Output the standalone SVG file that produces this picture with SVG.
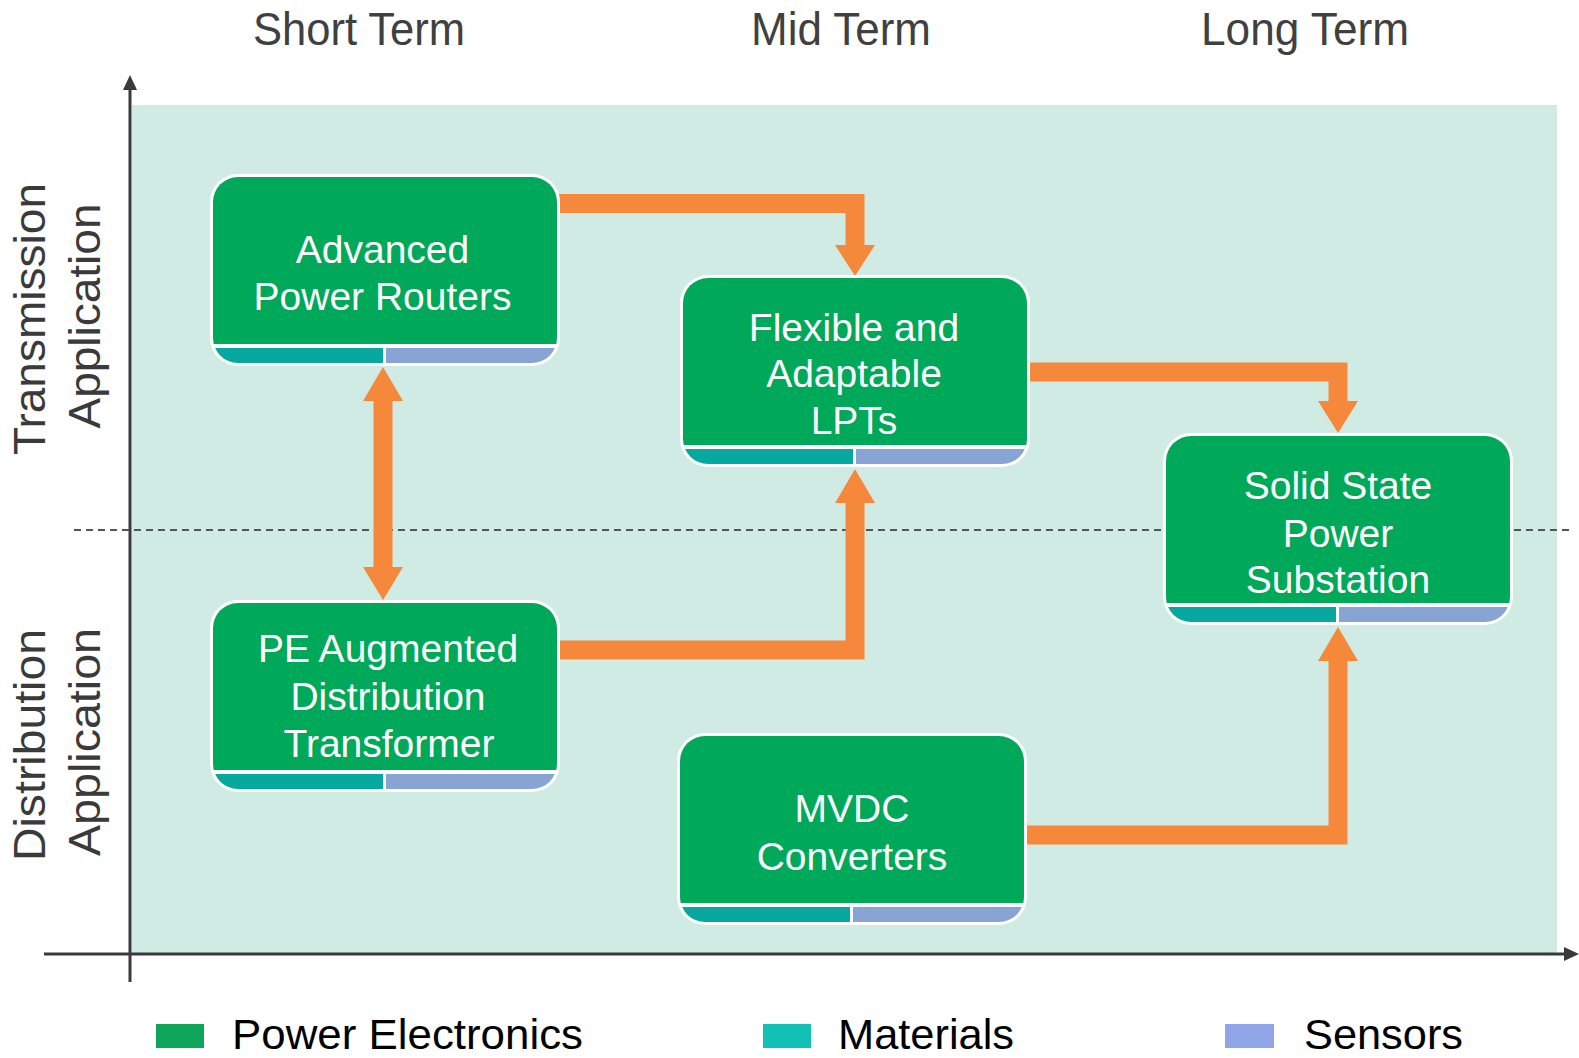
<svg xmlns="http://www.w3.org/2000/svg" width="1579" height="1058" viewBox="0 0 1579 1058">
<style>
.hdr{font-family:"Liberation Sans",Arial,sans-serif;font-size:46px;fill:#404040;text-anchor:middle}
.row{font-family:"Liberation Sans",Arial,sans-serif;font-size:45px;fill:#3a3a3a;text-anchor:middle}
.leg{font-family:"Liberation Sans",Arial,sans-serif;font-size:42px;fill:#000}
.nt{font-family:"Liberation Sans",Arial,sans-serif;font-size:39px;fill:#fff;text-anchor:middle}
.conn{fill:none;stroke:#f5883a;stroke-width:19;stroke-linejoin:miter;stroke-linecap:butt}
.head{fill:#f5883a}
.axis{stroke:#3a3a3a;stroke-width:3;fill:none}
</style>
<defs>
<clipPath id="nodeClip"><rect x="3" y="3" width="344" height="186" rx="25" ry="25"/></clipPath>
<g id="nodeShape">
<rect x="0" y="0" width="350" height="192" rx="28" ry="28" fill="#ffffff"/>
<g clip-path="url(#nodeClip)">
<rect x="0" y="0" width="350" height="170" fill="#00a859"/>
<rect x="0" y="174" width="173" height="20" fill="#07a89f"/>
<rect x="176" y="174" width="174" height="20" fill="#87a4d5"/>
</g>
</g>
</defs>
<rect width="1579" height="1058" fill="#ffffff"/>
<rect id="panel" x="132" y="105" width="1425" height="849" fill="#d0ebe4"/>
<g id="axes">
<line class="axis" x1="130" y1="982" x2="130" y2="88"/>
<polygon points="123,90 137,90 130,75" fill="#3a3a3a"/>
<line class="axis" x1="44" y1="954" x2="1566" y2="954"/>
<polygon points="1564,947 1564,961 1579,954" fill="#3a3a3a"/>
<line x1="74" y1="530" x2="1571" y2="530" stroke="#555" stroke-width="2" stroke-dasharray="7 5"/>
</g>
<g id="headers">
<text class="hdr" x="359" y="45" textLength="212" lengthAdjust="spacingAndGlyphs">Short Term</text>
<text class="hdr" x="841" y="45" textLength="180" lengthAdjust="spacingAndGlyphs">Mid Term</text>
<text class="hdr" x="1305" y="45" textLength="208" lengthAdjust="spacingAndGlyphs">Long Term</text>
</g>
<g id="rowLabels">
<text class="row" transform="translate(45,319) rotate(-90)" textLength="272" lengthAdjust="spacingAndGlyphs">Transmission</text>
<text class="row" transform="translate(100,316) rotate(-90)" textLength="225" lengthAdjust="spacingAndGlyphs">Application</text>
<text class="row" transform="translate(45,745) rotate(-90)" textLength="232" lengthAdjust="spacingAndGlyphs">Distribution</text>
<text class="row" transform="translate(100,742) rotate(-90)" textLength="228" lengthAdjust="spacingAndGlyphs">Application</text>
</g>
<g id="connectors">
<path class="conn" d="M555 203.5 H855 V246"/>
<polygon class="head" points="835,245 875,245 855,276"/>
<path class="conn" d="M1025 372 H1338 V402"/>
<polygon class="head" points="1318,401 1358,401 1338,433"/>
<path class="conn" d="M383 400 V568"/>
<polygon class="head" points="363,401 403,401 383,367"/>
<polygon class="head" points="363,567 403,567 383,600"/>
<path class="conn" d="M555 650 H855 V502"/>
<polygon class="head" points="835,503 875,503 855,469"/>
<path class="conn" d="M1022 835 H1338 V660"/>
<polygon class="head" points="1318,661 1358,661 1338,627"/>
</g>
<g id="node-advanced" transform="translate(210,174)">
<use href="#nodeShape"/>
<text class="nt" x="172.5" y="89">Advanced</text>
<text class="nt" x="172.5" y="136">Power Routers</text>
</g>
<g id="node-flexible" transform="translate(680,275)">
<use href="#nodeShape"/>
<text class="nt" x="174" y="66">Flexible and</text>
<text class="nt" x="174" y="112">Adaptable</text>
<text class="nt" x="174" y="159">LPTs</text>
</g>
<g id="node-solidstate" transform="translate(1163,433)">
<use href="#nodeShape"/>
<text class="nt" x="175" y="66">Solid State</text>
<text class="nt" x="175" y="114">Power</text>
<text class="nt" x="175" y="160">Substation</text>
</g>
<g id="node-pe" transform="translate(210,600)">
<use href="#nodeShape"/>
<text class="nt" x="178" y="62">PE Augmented</text>
<text class="nt" x="178" y="110">Distribution</text>
<text class="nt" x="179" y="157">Transformer</text>
</g>
<g id="node-mvdc" transform="translate(677,733)">
<use href="#nodeShape"/>
<text class="nt" x="175" y="89">MVDC</text>
<text class="nt" x="175" y="137">Converters</text>
</g>
<g id="legend">
<rect x="156" y="1024" width="48" height="24" fill="#0ea55a"/>
<text class="leg" x="232" y="1049" textLength="351" lengthAdjust="spacingAndGlyphs">Power Electronics</text>
<rect x="763" y="1024" width="48" height="24" fill="#12c0b5"/>
<text class="leg" x="838" y="1049" textLength="176" lengthAdjust="spacingAndGlyphs">Materials</text>
<rect x="1225" y="1024" width="49" height="24" fill="#8fa5e8"/>
<text class="leg" x="1304" y="1049" textLength="159" lengthAdjust="spacingAndGlyphs">Sensors</text>
</g>
</svg>
